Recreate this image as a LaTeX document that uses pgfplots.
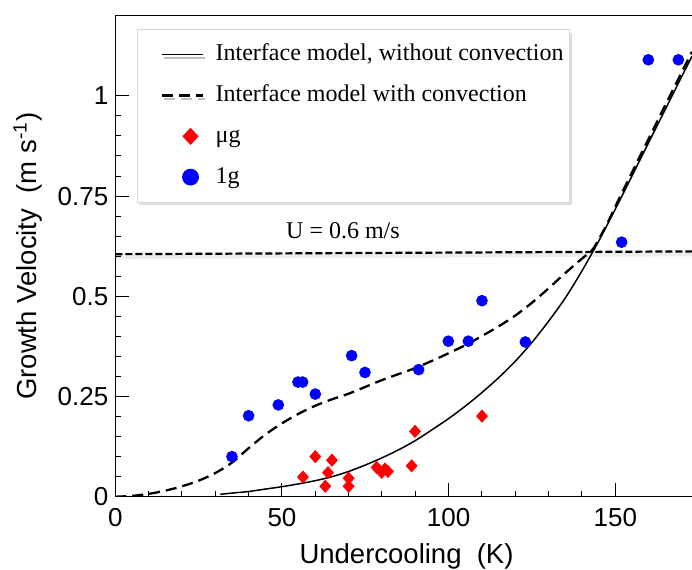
\documentclass[border=0pt]{standalone}
\usepackage{fontspec}
\setmainfont{Liberation Sans}
\newfontfamily\legfont{Liberation Serif}
\usepackage{pgfplots}
\pgfplotsset{compat=1.18}
\usetikzlibrary{shadows}
\pgfplotsset{
  linelegend/.style={legend image code/.code={\path (0pt,0pt); \draw[##1] (8.7pt,0pt) -- (29.2pt,0pt);}},
  diamlegend/.style={legend image code/.code={\path (0pt,0pt); \draw[##1, mark size=4pt, mark options={xscale=1.25}] plot coordinates {(23.2pt,0pt)};}},
  circlegend/.style={legend image code/.code={\path (0pt,0pt); \draw[##1, mark size=4pt] plot coordinates {(23.2pt,0pt)};}},
}
\begin{document}
\begin{tikzpicture}
\begin{axis}[
  at={(0pt,0pt)}, anchor=south west,
  scale only axis, width=288.35pt, height=240.5pt,
  xmin=0, xmax=173, ymin=0, ymax=1.2,
  axis lines*=left, axis line style={-, line width=0.6pt},
  tick align=inside, major tick length=7pt, minor tick length=3pt,
  tick style={line width=0.5pt, black},
  xtick={0,50,100,150}, ytick={0,0.25,0.5,0.75,1},
  minor x tick num=4, minor y tick num=4,
  /pgf/number format/assume math mode=true,
  tick label style={font=\fontsize{13}{15}\selectfont},
  xticklabel style={yshift=-2.5pt},
  xlabel={Undercooling~~(K)},
  ylabel={Growth Velocity~~(m s\textsuperscript{-1})},
  label style={font=\fontsize{13.75}{16}\selectfont},
  xlabel style={at={(axis description cs:0.505,-0.1397)}, anchor=base},
  ylabel style={at={(axis description cs:-0.1358,0.5)}, anchor=base},
  legend cell align=left,
  legend style={at={(axis description cs:0.0369,0.9717)}, anchor=north west,
    draw=gray!30, line width=0.4pt, fill=white,
    drop shadow={opacity=0.25, shadow xshift=1pt, shadow yshift=-1.6pt},
    inner xsep=3pt, inner ysep=7pt, row sep=9.4pt, column sep=6pt,
    font=\legfont\fontsize{12}{14}\selectfont,
    nodes={inner sep=0pt, text height=8.5pt, text depth=2.5pt}},
]
\addplot[black, line width=0.75pt, smooth, linelegend]
  coordinates {(31.5,0.006) (35,0.009) (40,0.013) (45,0.019) (50,0.025) (55,0.032) (60,0.040) (65,0.050) (70,0.063) (75,0.079) (80,0.097) (85,0.117) (90,0.140) (95,0.167) (100,0.195) (105,0.226) (110,0.260) (115,0.297) (120,0.338) (125,0.385) (130,0.438) (135,0.496) (140,0.5635) (145,0.6375) (150,0.7175) (155,0.8005) (160,0.8835) (165,0.9665) (170,1.0495) (173,1.099)};
\addlegendentry{Interface model, without convection}
\addplot[black, line width=1.15pt, dash pattern=on 5.5pt off 3pt, smooth, linelegend]
  coordinates {(0,0) (5,0.002) (10,0.007) (15,0.015) (20,0.026) (25,0.040) (30,0.059) (35,0.085) (40,0.121) (45,0.155) (50,0.183) (55,0.207) (60,0.227) (65,0.243) (70,0.257) (75,0.274) (80,0.291) (85,0.306) (90,0.321) (95,0.339) (100,0.358) (105,0.378) (110,0.401) (115,0.425) (120,0.452) (125,0.484) (130,0.520) (135,0.558) (140,0.594) (143,0.615) (145,0.642) (147.5,0.680) (150,0.724) (155,0.809) (160,0.893) (165,0.977) (170,1.060) (173,1.11)};
\addlegendentry{Interface model with convection}
\addplot[only marks, red, mark=diamond*, mark size=3pt, mark options={xscale=1.2}, diamlegend]
  coordinates {(56.3,0.049) (60.0,0.100) (63.0,0.026) (63.8,0.060) (65.0,0.091) (70.0,0.046) (70.0,0.026) (78.4,0.073) (79.9,0.061) (80.9,0.069) (81.8,0.063) (88.9,0.077) (89.9,0.163) (110.0,0.201)};
\addlegendentry{μg}
\addplot[only marks, blue, mark=*, mark size=2.7pt, circlegend]
  coordinates {(35.0,0.100) (40.0,0.202) (48.9,0.229) (54.8,0.286) (56.2,0.286) (60.0,0.256) (70.9,0.352) (74.9,0.310) (91.0,0.317) (99.9,0.388) (105.9,0.388) (110.0,0.489) (123.0,0.386) (151.9,0.635) (159.9,1.09) (168.9,1.09)};
\addlegendentry{1g}
\addplot[forget plot, black, opacity=0.07, line width=2.5pt] coordinates {(0,0.599) (173,0.606)};
\addplot[forget plot, black, line width=1.1pt, dash pattern=on 3.5pt off 1.5pt] coordinates {(0,0.605) (173,0.612)};
\node[font=\legfont\fontsize{12}{14}\selectfont, anchor=base] at (axis cs:68.3,0.644) {U = 0.6 m/s};
\end{axis}
\draw[line width=0.6pt] (current axis.north west) -- (current axis.north east);
\pgfresetboundingbox
\useasboundingbox (-57.65pt,-36.15pt) rectangle (288.35pt,248.35pt);
\end{tikzpicture}
\end{document}
